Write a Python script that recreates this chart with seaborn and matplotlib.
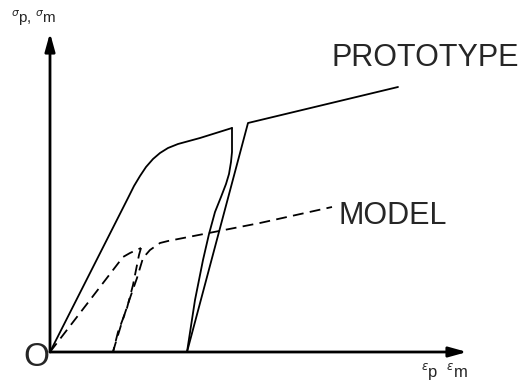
import matplotlib
matplotlib.use("Agg")
import matplotlib.pyplot as plt
import seaborn as sns
import pandas as pd

# Stress-strain paths (arbitrary units): loading, unloading, reloading
proto_load_strain = [0.00, 0.78, 0.84, 0.90, 0.96, 1.03, 1.10, 1.18, 1.28, 1.50, 1.82]
proto_load_stress = [0.00, 1.54, 1.66, 1.76, 1.85, 1.93, 1.99, 2.04, 2.08, 2.14, 2.24]
proto_unload_strain = [1.82, 1.82, 1.81, 1.79, 1.76, 1.71, 1.65, 1.59, 1.53, 1.45, 1.37]
proto_unload_stress = [2.24, 2.00, 1.90, 1.78, 1.68, 1.55, 1.40, 1.18, 0.92, 0.52, 0.00]
proto_reload_strain = [1.37, 1.98, 3.48]
proto_reload_stress = [0.00, 2.29, 2.65]

model_load_strain = [0.00, 0.40, 0.73, 0.80, 0.91]
model_load_stress = [0.00, 0.52, 0.95, 0.99, 1.04]
model_unload_strain = [0.91, 0.89, 0.83, 0.77, 0.68, 0.63]
model_unload_stress = [1.04, 0.97, 0.67, 0.44, 0.20, 0.00]
model_reload_strain = [0.63, 0.65, 0.72, 0.80, 0.87, 0.93, 1.00, 1.10, 1.18, 2.10, 2.82]
model_reload_stress = [0.00, 0.07, 0.30, 0.54, 0.74, 0.94, 1.02, 1.09, 1.11, 1.29, 1.45]

sns.set_theme(style="white")
plt.rcParams["font.family"] = ["Liberation Sans", "DejaVu Sans"]
plt.rcParams["mathtext.fontset"] = "dejavusans"

fig = plt.figure(figsize=(5.26, 3.82), dpi=100)
ax = fig.add_axes([0, 0, 1, 1])
ax.set_xlim(-0.5, 4.76)
ax.set_ylim(-0.30, 3.52)
ax.axis("off")

paths = [
    ("prototype", proto_load_strain, proto_load_stress),
    ("prototype", proto_unload_strain, proto_unload_stress),
    ("prototype", proto_reload_strain, proto_reload_stress),
    ("model", model_load_strain, model_load_stress),
    ("model", model_unload_strain, model_unload_stress),
    ("model", model_reload_strain, model_reload_stress),
]

for kind, xs, ys in paths:
    df = pd.DataFrame({"strain": xs, "stress": ys})
    line_ax = sns.lineplot(data=df, x="strain", y="stress", sort=False,
                           estimator=None, color="black", lw=1.3, ax=ax)
    if kind == "model":
        line_ax.lines[-1].set_dashes((6.0, 3.5))

ax.set_xlabel("")
ax.set_ylabel("")

# Coordinate axes with arrowheads
arrow = dict(arrowstyle="-|>,head_length=0.9,head_width=0.25", color="black",
             lw=2.0, shrinkA=0, shrinkB=0)
ax.annotate("", xy=(0, 3.19), xytext=(0, 0), arrowprops=arrow)
ax.annotate("", xy=(4.17, 0), xytext=(0, 0), arrowprops=arrow)

ax.text(-0.135, -0.05, "O", fontsize=24, ha="center", va="center")
ax.text(2.82, 2.94, "PROTOTYPE", fontsize=22, ha="left", va="center")
ax.text(2.88, 1.36, "MODEL", fontsize=22, ha="left", va="center")
ax.text(-0.39, 3.34, r"$^{\sigma}$p, $^{\sigma}$m", fontsize=11,
        ha="left", va="center")
ax.text(3.71, -0.19, r"$^{\epsilon}$p  $^{\epsilon}$m", fontsize=12,
        ha="left", va="center")

fig.savefig("out.png", dpi=100)
